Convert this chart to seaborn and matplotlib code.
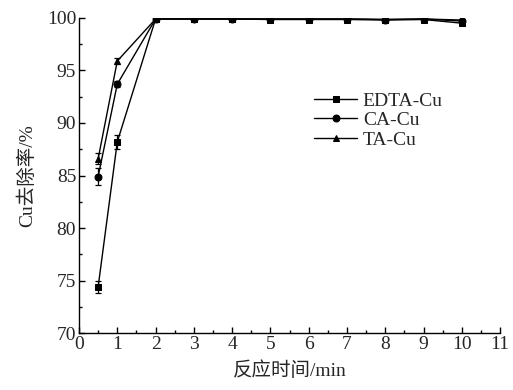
import matplotlib
matplotlib.use("Agg")
import matplotlib.pyplot as plt
import seaborn as sns
import pandas as pd
from matplotlib.ticker import MultipleLocator

# reaction time (min)
time = [0.5, 1, 2, 3, 4, 5, 6, 7, 8, 9, 10]

edta_cu = [74.4, 88.2, 99.9, 99.9, 99.9, 99.85, 99.85, 99.85, 99.8, 99.85, 99.5]
ca_cu = [84.9, 93.7, 99.9, 99.9, 99.9, 99.9, 99.9, 99.9, 99.85, 99.9, 99.7]
ta_cu = [86.6, 95.9, 99.9, 99.9, 99.9, 99.9, 99.9, 99.9, 99.85, 99.9, 99.8]

edta_err = [0.6, 0.7, 0.1, 0, 0, 0, 0, 0, 0, 0, 0.1]
ca_err = [0.8, 0.3, 0.1, 0, 0, 0, 0, 0, 0, 0, 0.1]
ta_err = [0.5, 0.3, 0.1, 0, 0, 0, 0, 0, 0, 0, 0.1]

series = {"EDTA-Cu": (edta_cu, edta_err, "s"),
          "CA-Cu": (ca_cu, ca_err, "o"),
          "TA-Cu": (ta_cu, ta_err, "^")}

sns.set_style("ticks")
plt.rcParams["font.family"] = ["Liberation Serif", "Noto Sans CJK SC"]

fig = plt.figure(figsize=(5.13, 3.9), dpi=100)
ax = fig.add_axes([0.154, 0.146, 0.821, 0.808])

for name, (vals, err, mk) in series.items():
    df = pd.DataFrame({"t": time, "r": vals})
    sns.lineplot(data=df, x="t", y="r", ax=ax, color="black", lw=1.0,
                 marker=mk, markersize=5, markeredgecolor="black", label=name)
    ax.errorbar(time, vals, yerr=err, fmt="none", ecolor="black",
                elinewidth=0.9, capsize=2.5, capthick=0.9)

ax.set_xlim(0, 11)
ax.set_ylim(70, 100)
ax.xaxis.set_major_locator(MultipleLocator(1))
ax.xaxis.set_minor_locator(MultipleLocator(0.5))
ax.yaxis.set_major_locator(MultipleLocator(5))
ax.yaxis.set_minor_locator(MultipleLocator(2.5))
ax.tick_params(which="both", direction="in", labelsize=14, color="black", pad=2)
ax.tick_params(which="major", length=4, width=1)
ax.tick_params(which="minor", length=2.5, width=1)
for s in ["top", "right"]:
    ax.spines[s].set_visible(False)
for s in ["left", "bottom"]:
    ax.spines[s].set_linewidth(1.0)
    ax.spines[s].set_color("black")

ax.set_xlabel("反应时间/min", fontsize=14, labelpad=6)
ax.set_ylabel("Cu去除率/%", fontsize=14, labelpad=8)

ax.legend(loc="upper left", bbox_to_anchor=(0.54, 0.79), frameon=False,
          fontsize=14, handlelength=2.2, handletextpad=0.3, labelspacing=0.1,
          borderaxespad=0)

fig.savefig("out.png", dpi=100)
